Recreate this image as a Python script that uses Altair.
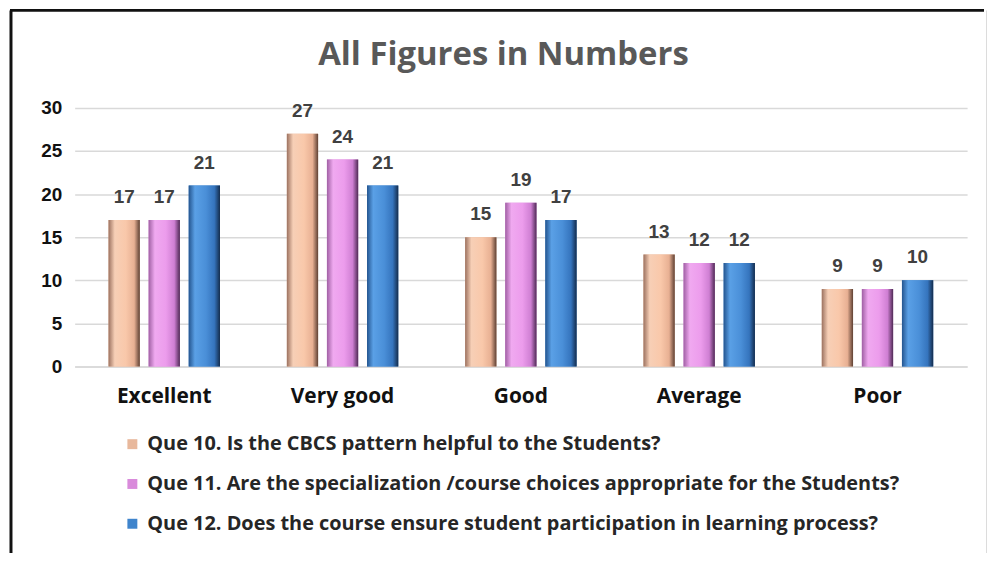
import altair as alt
import pandas as pd

categories = ["Excellent", "Very good", "Good", "Average", "Poor"]
series = [
    "Que 10. Is the CBCS pattern helpful to the Students?",
    "Que 11. Are the specialization /course choices appropriate for the Students?",
    "Que 12. Does the course ensure student participation in learning process?",
]
q10 = [17, 27, 15, 13, 9]
q11 = [17, 24, 19, 12, 9]
q12 = [21, 21, 17, 12, 10]
flat_colors = ["#E8B89C", "#D98BDB", "#3F84CC"]
title_text = "All Figures in Numbers"

rows = []
for s, vals in zip(series, [q10, q11, q12]):
    for c, v in zip(categories, vals):
        rows.append({"category": c, "series": s, "value": v})
df = pd.DataFrame(rows)

FONT = "Open Sans"
NUMFONT = "Liberation Sans"

x_enc = alt.X("category:N", sort=categories,
              scale=alt.Scale(paddingInner=0.375, paddingOuter=0.19),
              axis=alt.Axis(title=None, labelAngle=0, labelFontSize=21, labelFontWeight="bold",
                            labelColor="#111111", labelFont=FONT, ticks=False, domain=True,
                            domainColor="#d9d9d9", domainWidth=1.5, labelPadding=19, grid=False))
xo_enc = alt.XOffset("series:N", sort=series,
                     scale=alt.Scale(domain=series, paddingInner=0.22, paddingOuter=0))
y_enc = alt.Y("value:Q", scale=alt.Scale(domain=[0, 30], nice=False),
              axis=alt.Axis(title=None, values=[0, 5, 10, 15, 20, 25, 30], labelFontSize=19,
                            labelFontWeight="bold", labelColor="#111111", labelFont=NUMFONT,
                            ticks=False, domain=False, gridColor="#d9d9d9", gridWidth=1.5,
                            labelPadding=13))

base = alt.Chart(df)

legend_bars = base.mark_bar().encode(
    x=x_enc, xOffset=xo_enc, y=y_enc,
    color=alt.Color("series:N", sort=series,
                    scale=alt.Scale(domain=series, range=flat_colors),
                    legend=alt.Legend(title=None, orient="none", legendX=48, legendY=328,
                                      direction="vertical", symbolType="square", symbolSize=100,
                                      labelFontSize=20, labelFontWeight="bold", labelFont=FONT,
                                      labelColor="#262626", rowPadding=20, labelOffset=5,
                                      labelLimit=900, symbolStrokeWidth=0)),
)

grads = [
    ["#9c7260", "#f7cfb6", "#f9c8aa", "#e8b093", "#5e4033"],
    ["#a060a4", "#f0a9f0", "#ec9cec", "#cf7fd3", "#4f2a55"],
    ["#24558f", "#5aa0e6", "#4a8fd8", "#3574bd", "#142c4c"],
]
grad_layers = []
for s, g in zip(series, grads):
    fill = alt.Gradient(gradient="linear", x1=0, x2=1, y1=0, y2=0,
                        stops=[alt.GradientStop(color=g[0], offset=0),
                               alt.GradientStop(color=g[1], offset=0.2),
                               alt.GradientStop(color=g[2], offset=0.55),
                               alt.GradientStop(color=g[3], offset=0.82),
                               alt.GradientStop(color=g[4], offset=1)])
    grad_layers.append(
        base.transform_filter(alt.datum.series == s).mark_bar(fill=fill).encode(
            x=x_enc, xOffset=xo_enc, y=y_enc)
    )

labels = base.mark_text(baseline="alphabetic", dy=-17, fontSize=19, fontWeight="bold",
                        font=NUMFONT, color="#404040").encode(
    x=x_enc, xOffset=xo_enc, y=y_enc, text="value:Q")

frame_df = pd.DataFrame({"a": [0]})
top_line = alt.Chart(frame_df).mark_rule(color="#111111", strokeWidth=3).encode(
    x=alt.value(-65), x2=alt.value(914), y=alt.value(-98))
left_line = alt.Chart(frame_df).mark_rule(color="#111111", strokeWidth=3).encode(
    x=alt.value(-64), y=alt.value(-98), y2=alt.value(460))
right_line = alt.Chart(frame_df).mark_rule(color="#d0d0d0", strokeWidth=1.5).encode(
    x=alt.value(917), y=alt.value(-98), y2=alt.value(460))
title_mark = alt.Chart(pd.DataFrame({"t": [title_text]})).mark_text(
    fontSize=33, fontWeight="bold", font=FONT, color="#595959", baseline="middle", align="center"
).encode(x=alt.value(431), y=alt.value(-53), text="t:N")

chart = alt.layer(legend_bars, *grad_layers, labels, top_line, left_line, right_line,
                  title_mark).properties(
    width=897, height=260,
    padding={"left": 67, "top": 99, "right": 20, "bottom": 186},
    autosize=alt.AutoSizeParams(type="none"),
).configure_view(stroke=None)

chart.save("out.html", embed_options={"renderer": "svg", "actions": False})
